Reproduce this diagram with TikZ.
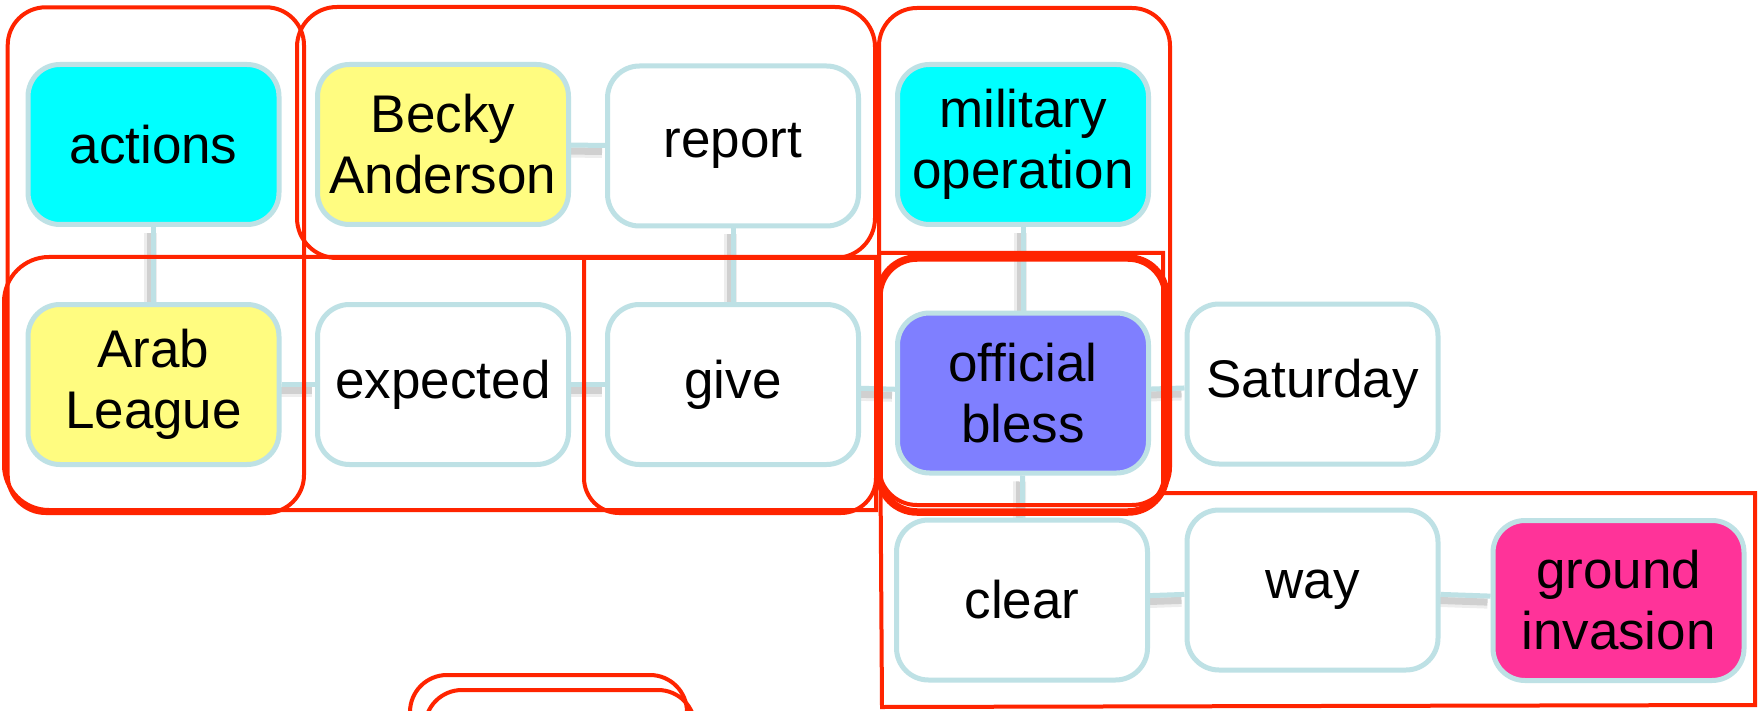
\documentclass[tikz,border=0pt]{standalone}
\usepackage{fontspec}
\setmainfont{Liberation Sans}
\usetikzlibrary{backgrounds}
\definecolor{edgeblue}{RGB}{190,225,229}
\definecolor{grpred}{RGB}{255,36,0}
\definecolor{nodecyan}{RGB}{0,255,255}
\definecolor{nodeyellow}{RGB}{255,252,128}
\definecolor{nodeblue}{RGB}{127,127,255}
\definecolor{nodepink}{RGB}{255,51,153}
\begin{document}
\begin{tikzpicture}[x=1pt,y=1pt,
  concept/.style={draw=edgeblue, line width=5pt, fill=white, rounded corners=32pt,
    minimum width=251pt, minimum height=160pt, inner sep=0pt, align=center,
    font=\fontsize{53pt}{61pt}\selectfont},
  link/.style={draw=edgeblue, line width=5pt},
  haze/.style={draw=black, opacity=0.07, line width=13pt,
    transform canvas={xshift=-3pt,yshift=-6pt}},
  hazecore/.style={draw=black, opacity=0.12, line width=7pt,
    transform canvas={xshift=-3pt,yshift=-6pt}},
  group/.style={draw=grpred, line width=4pt},
  boldgroup/.style={draw=grpred, line width=7.5pt}]
\useasboundingbox (0,0) rectangle (1763,-711);

% concept nodes
\node[concept, fill=nodecyan]   (actions)  at (153.5,-144.5) {actions};
\node[concept, fill=nodeyellow] (becky)    at (443,-144.5)   {Becky\\Anderson};
\node[concept]                  (report)   at (733,-146)     {report};
\node[concept, fill=nodecyan]   (military) at (1023,-144.5)  {military\\operation};
\node[concept, fill=nodeyellow] (arab)     at (153.5,-384.5) {Arab\\League};
\node[concept]                  (expected) at (443,-384.5)   {expected};
\node[concept]                  (give)     at (733,-384.5)   {give};
\node[concept, fill=nodeblue]   (bless)    at (1023,-393)    {official\\bless};
\node[concept]                  (saturday) at (1312.5,-384)  {Saturday};
\node[concept]                  (clear)    at (1022,-600)    {clear};
\node[concept]                  (way)      at (1312.5,-590)  {way};
\node[concept, fill=nodepink]   (ground)   at (1618.5,-600.5){ground\\invasion};

% links behind the nodes, with a soft drop shadow
\begin{pgfonlayer}{background}
  \fill[white] (0,0) rectangle (1763,-711);
  \foreach \a/\b in {actions/arab, becky/report, report/give, military/bless,
                     arab/expected, expected/give, give/bless, bless/saturday,
                     bless/clear, clear/way, way/ground}{
    \draw[haze] (\a) -- (\b);
    \draw[hazecore] (\a) -- (\b);
    \draw[link] (\a) -- (\b);
  }
\end{pgfonlayer}

% red groupings
\draw[group, rounded corners=38pt] (7.7,-7.3) rectangle (304,-513);
\draw[group, rounded corners=40pt] (297,-7) rectangle (875,-258);
\draw[group, rounded corners=38pt] (879,-8) rectangle (1170,-505);
\draw[group] (876,-257) -- (49,-257)
  arc[start angle=90, end angle=180, radius=45pt] -- (4,-465)
  arc[start angle=180, end angle=270, radius=45pt] -- (876,-510) -- cycle;
\draw[group] (876,-258) -- (584,-258) -- (584,-478)
  arc[start angle=180, end angle=270, radius=35pt] -- (841,-513)
  arc[start angle=270, end angle=360, radius=35pt] -- cycle;
\draw[group] (879,-253) -- (1163,-253) -- (1163,-493) -- (1755,-493)
  -- (1755,-705) -- (882,-707) -- cycle;
\draw[boldgroup, rounded corners=38pt] (879,-258) rectangle (1166,-512);
\begin{scope}
  \clip (0,0) rectangle (1763,-711);
  \draw[group, rounded corners=37pt] (410,-675) rectangle (687,-820);
  \draw[group, rounded corners=37pt] (425,-690) rectangle (695,-820);
\end{scope}
\end{tikzpicture}
\end{document}
